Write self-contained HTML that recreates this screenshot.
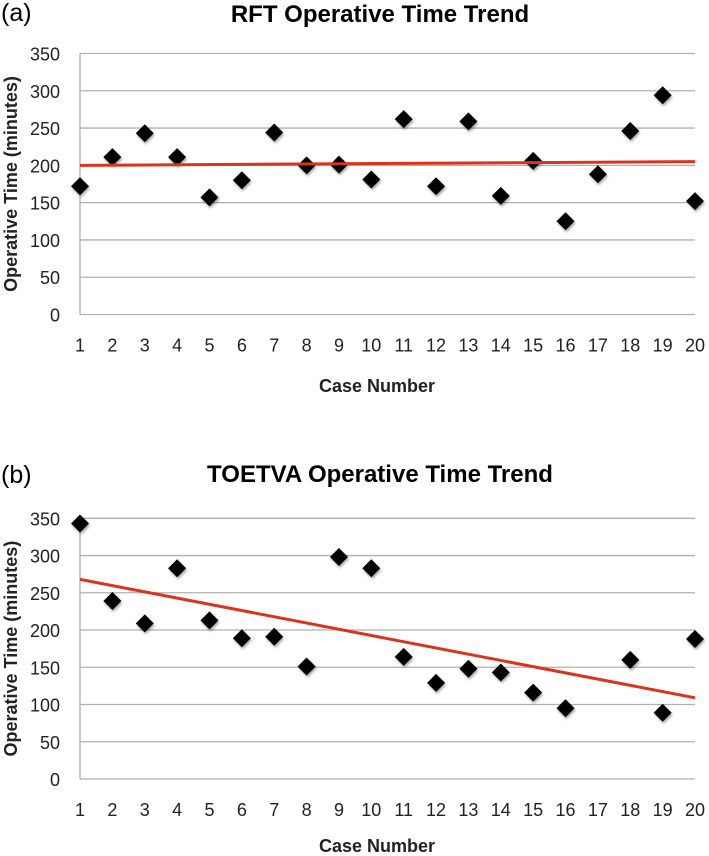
<!DOCTYPE html>
<html><head><meta charset="utf-8"><style>
html,body{margin:0;padding:0;background:#fff;}
svg{display:block;font-family:"Liberation Sans",sans-serif;}
</style></head><body>
<svg id="fig" width="709" height="856" viewBox="0 0 709 856" xmlns="http://www.w3.org/2000/svg">
<defs><filter id="sh" x="-50%" y="-50%" width="200%" height="200%"><feDropShadow dx="1" dy="2" stdDeviation="1.2" flood-color="#000" flood-opacity="0.35"/></filter></defs>
</svg>
<script>
const categories = [1,2,3,4,5,6,7,8,9,10,11,12,13,14,15,16,17,18,19,20];
const yTicks = [0,50,100,150,200,250,300,350];
const rftValues = [172,211,243,211,157,180,244,200,201,181,262,172,259,159,206,125,188,246,294,152];
const rftTrend = [200,205];
const toetvaValues = [343,239,209,283,213,189,191,151,298,283,164,129,148,143,116,95,null,160,89,188];
const toetvaTrend = [268,109];

const NS = "http://www.w3.org/2000/svg";
const svg = document.getElementById('fig');
function mk(tag, attrs, parent){const e=document.createElementNS(NS,tag);for(const k in attrs)e.setAttribute(k,attrs[k]);(parent||svg).appendChild(e);return e;}

function drawChart(cfg){
  const g = mk('g',{});
  
  
  const x0=80, x1=695, yTop=cfg.yTop, yBot=cfg.yBot;
  const xs = i => x0 + (x1-x0)*(i)/(categories.length-1);
  const ys = v => yBot - (yBot-yTop)*v/350;
  const pl = mk('text',{x:1,y:cfg.panelY,'font-size':25,fill:'#000'},g);
  pl.textContent = cfg.panel;
  
  
  const t = mk('text',{x:380,y:cfg.titleY,'font-size':24,'font-weight':'bold','text-anchor':'middle',fill:'#000'},g);
  t.textContent = cfg.title;
  
  
  yTicks.forEach(v=>{
    const ln = mk('line',{x1:x0,x2:x1,y1:ys(v),y2:ys(v),stroke:'#b0b0b0','stroke-width':1.3},g);
    
    
    const tl = mk('text',{x:60,y:ys(v)+7,'font-size':18,'text-anchor':'end',fill:'#222'},g);
    tl.textContent = v;
    
    
  });
  const ax = mk('line',{x1:x0,x2:x0,y1:yTop,y2:yBot,stroke:'#b0b0b0','stroke-width':1.3},g);
  
  
  categories.forEach((c,i)=>{
    const tl = mk('text',{x:xs(i),y:yBot+37,'font-size':18,'text-anchor':'middle',fill:'#222'},g);
    tl.textContent = c;
    
    
  });
  const xt = mk('text',{x:377,y:cfg.xTitleY,'font-size':18,'font-weight':'bold','text-anchor':'middle',fill:'#222'},g);
  xt.textContent = 'Case Number';
  
  
  const yc=(yTop+yBot)/2;
  const yt = mk('text',{x:0,y:0,'font-size':18,'font-weight':'bold','text-anchor':'middle',fill:'#222',transform:`translate(17,${yc}) rotate(-90)`,'xml:space':'preserve'},g);
  yt.textContent = cfg.yTitle;
  
  
  cfg.values.forEach((v,i)=>{
    if(v===null) return;
    const cx=xs(i), cy=ys(v), r=9;
    const p = mk('polygon',{points:`${cx},${cy-r} ${cx+r},${cy} ${cx},${cy+r} ${cx-r},${cy}`,fill:'#000',filter:'url(#sh)'},g);
    
    
  });
  const tr = mk('line',{x1:xs(0),x2:xs(categories.length-1),y1:ys(cfg.trend[0]),y2:ys(cfg.trend[1]),stroke:'#d9341c','stroke-width':3},g);
  
  
}
drawChart({key:'rft',panel:'(a)',panelY:21,title:'RFT Operative Time Trend',titleY:22,yTop:53.5,yBot:314.5,xTitleY:392,yTitle:'Operative Time (minutes)',values:rftValues,trend:rftTrend});
drawChart({key:'toetva',panel:'(b)',panelY:483,title:'TOETVA Operative Time Trend',titleY:482,yTop:518.3,yBot:779,xTitleY:852,yTitle:'Operative Time  (minutes)',values:toetvaValues,trend:toetvaTrend});
</script>
</body></html>
